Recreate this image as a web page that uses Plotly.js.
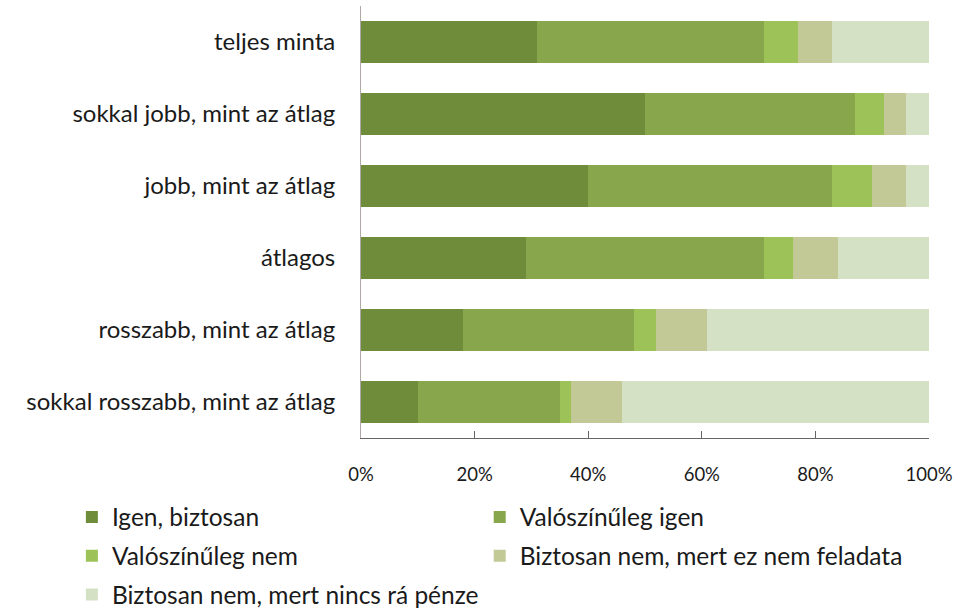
<!DOCTYPE html>
<html>
<head>
<meta charset="utf-8">
<script src="https://cdn.plot.ly/plotly-3.0.1.min.js"></script>
<style>html,body{margin:0;padding:0;background:#fff;}#chart{width:977px;height:615px;}</style>
</head>
<body>
<div id="chart"></div>
<script>
const categories = ["teljes minta", "sokkal jobb, mint az átlag", "jobb, mint az átlag", "átlagos", "rosszabb, mint az átlag", "sokkal rosszabb, mint az átlag"];
const seriesNames = ["Igen, biztosan", "Valószínűleg igen", "Valószínűleg nem", "Biztosan nem, mert ez nem feladata", "Biztosan nem, mert nincs rá pénze"];
const igenBiztosan = [31, 50, 40, 29, 18, 10];
const valIgen = [40, 37, 43, 42, 30, 25];
const valNem = [6, 5, 7, 5, 4, 2];
const nemFeladata = [6, 4, 6, 8, 9, 9];
const nincsPenz = [17, 4, 4, 16, 39, 54];
const colors = ["#6f8c3b", "#88a64b", "#9dc257", "#c3c996", "#d4e1c5"];
const legendOf = ["legend", "legend2", "legend", "legend2", "legend"];

const allSeries = [igenBiztosan, valIgen, valNem, nemFeladata, nincsPenz];
const traces = allSeries.map((vals, i) => ({
  type: "bar",
  orientation: "h",
  name: seriesNames[i],
  y: categories,
  x: vals,
  legend: legendOf[i],
  legendgroup: "g" + i,
  marker: {color: colors[i], line: {width: 0}},
  hoverinfo: "none"
}));

const legendCommon = {
  orientation: "v",
  yref: "container",
  yanchor: "top",
  y: 0.196,
  traceorder: "grouped",
  tracegroupgap: 4,
  font: {size: 24.5},
  bgcolor: "rgba(0,0,0,0)"
};

const layout = {
  width: 977, height: 615,
  margin: {l: 361, r: 48, t: 6, b: 177},
  paper_bgcolor: "#fff", plot_bgcolor: "#fff",
  barmode: "stack",
  bargap: 0.43,
  font: {family: "Lato, 'Open Sans', sans-serif", size: 24, color: "#1a1a1a"},
  xaxis: {
    range: [0, 100], dtick: 20, ticksuffix: "%",
    showgrid: false, zeroline: false,
    showline: true, linecolor: "#666", linewidth: 1,
    ticks: "inside", ticklen: 7, tickcolor: "#666",
    ticklabelstandoff: 20,
    tickfont: {size: 18.5}
  },
  yaxis: {
    autorange: "reversed",
    showgrid: false, zeroline: false,
    showline: true, linecolor: "#b0a8a8", linewidth: 1,
    ticks: "", ticklabelstandoff: 20,
    tickfont: {size: 24}
  },
  showlegend: true,
  legend: Object.assign({}, legendCommon, {x: -0.509, xanchor: "left"}),
  legend2: Object.assign({}, legendCommon, {x: 0.209, xanchor: "left"})
};

Plotly.newPlot("chart", traces, layout, {displayModeBar: false, staticPlot: true});
</script>
</body>
</html>
